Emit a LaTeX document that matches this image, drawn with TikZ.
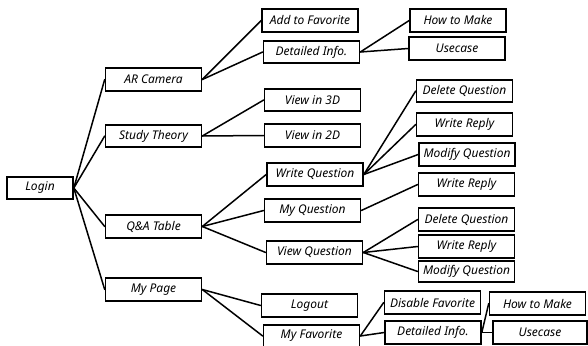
\documentclass[tikz,border=0pt]{standalone}
\usepackage{fontspec}
\setmainfont{Noto Sans}
\usepackage{tikz}
\usetikzlibrary{positioning}
\tikzset{menubox/.style={draw, line width=1.6pt, fill=white, inner sep=0pt,
  minimum width=96pt, minimum height=22.5pt, font=\fontsize{12}{14}\selectfont\itshape}}
\tikzset{branch/.style={line width=1.5pt, line cap=round}}

\begin{document}
\begin{tikzpicture}[x=1pt, y=-1pt]
      \useasboundingbox [fill=white] (0,0) rectangle (588,345);
      % level 0 and 1
      \node [menubox, minimum width=66pt] (login) at (40,188) {Login};
      \node [menubox] (arcam) at (153.5,79.5) {AR Camera};
      \node [menubox] (theory) at (153.5,136) {Study Theory};
      \node [menubox] (qna) at (153.5,226.5) {Q\&A Table};
      \node [menubox] (mypage) at (153.5,289.5) {My Page};
      % level 2
      \node [menubox] (addfav) at (310,20.5) {Add to Favorite};
      \node [menubox] (detail) at (311.5,52) {Detailed Info.};
      \node [menubox] (view3d) at (312.5,100) {View in 3D};
      \node [menubox] (view2d) at (312.5,135.5) {View in 2D};
      \node [menubox] (writeq) at (315,174.5) {Write Question};
      \node [menubox] (myq) at (312.5,210.5) {My Question};
      \node [menubox] (viewq) at (314.5,252.5) {View Question};
      \node [menubox] (logout) at (309.5,305.5) {Logout};
      \node [menubox] (myfav) at (311.5,336) {My Favorite};
      % level 3
      \node [menubox] (howto) at (458,20.5) {How to Make};
      \node [menubox] (usecase) at (457,48.5) {Usecase};
      \node [menubox] (delqa) at (464.5,91) {Delete Question};
      \node [menubox] (replya) at (464.5,124.5) {Write Reply};
      \node [menubox] (modqa) at (467,154.5) {Modify Question};
      \node [menubox] (replyb) at (466.5,184.5) {Write Reply};
      \node [menubox] (delqb) at (466.5,219.5) {Delete Question};
      \node [menubox] (replyc) at (466.5,246.5) {Write Reply};
      \node [menubox, minimum height=21pt] (modqb) at (466.5,271.5) {Modify Question};
      \node [menubox] (disfav) at (432.5,302.5) {Disable Favorite};
      \node [menubox] (detailb) at (433,332.5) {Detailed Info.};
      % level 4
      \node [menubox] (howtob) at (537.5,303.5) {How to Make};
      \node [menubox, minimum width=94pt] (usecaseb) at (540,332.5) {Usecase};
      % connectors
      \foreach \from/\to in {login/arcam, login/theory, login/qna, login/mypage,
          arcam/addfav, arcam/detail, detail/howto, detail/usecase,
          theory/view3d, theory/view2d,
          qna/writeq, qna/myq, qna/viewq,
          writeq/delqa, writeq/replya, writeq/modqa, myq/replyb,
          viewq/delqb, viewq/replyc, viewq/modqb,
          mypage/logout, mypage/myfav, myfav/disfav, myfav/detailb,
          detailb/howtob, detailb/usecaseb}
        \draw [branch] (\from.east) -- (\to.west);
\end{tikzpicture}
\end{document}
